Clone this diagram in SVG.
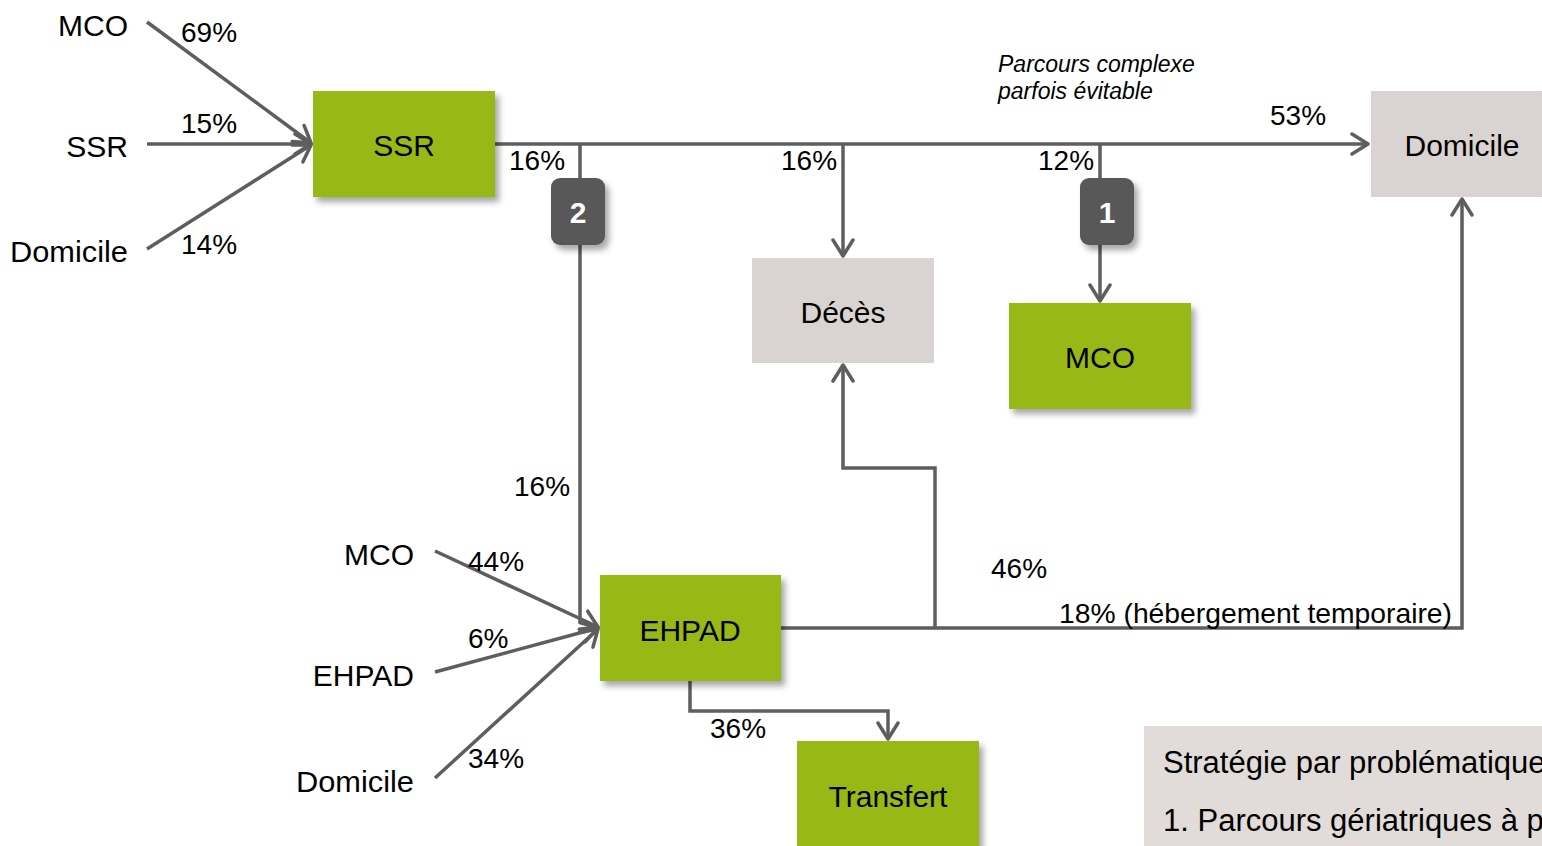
<svg xmlns="http://www.w3.org/2000/svg" width="1542" height="846" viewBox="0 0 1542 846">
<defs>
<style>
text{font-family:"Liberation Sans",Arial,sans-serif;fill:#000}
.lbl{font-size:30px}
.pct{font-size:28px}
.node{font-size:30px;text-anchor:middle}
.green{fill:#98b814}
.grey{fill:#d9d4d1}
.badge{fill:#595959}
.btxt{font-size:30px;font-weight:bold;fill:#fff;text-anchor:middle}
.ln{stroke:#5e5e5e;stroke-width:3.5;fill:none}
.it{font-size:23px;font-style:italic}
.strat{font-size:31px}
</style>
<marker id="ah" viewBox="0 0 20 24" refX="18" refY="12" markerWidth="20" markerHeight="24" markerUnits="userSpaceOnUse" orient="auto">
<path d="M2,2 L18,12 L2,22" fill="none" stroke="#5e5e5e" stroke-width="3.5" stroke-linecap="round" stroke-linejoin="round"/>
</marker>
<filter id="sh" x="-10%" y="-10%" width="130%" height="130%">
<feDropShadow dx="4" dy="5" stdDeviation="3" flood-color="#000" flood-opacity="0.35"/>
</filter>
</defs>

<g id="connectors">
<line class="ln" x1="147" y1="22" x2="311" y2="143" marker-end="url(#ah)"/>
<line class="ln" x1="147" y1="144" x2="311" y2="144" marker-end="url(#ah)"/>
<line class="ln" x1="147" y1="249" x2="311" y2="145" marker-end="url(#ah)"/>
<line class="ln" x1="495" y1="144" x2="1368" y2="144" marker-end="url(#ah)"/>
<line class="ln" x1="580" y1="144" x2="580" y2="622"/>
<line class="ln" x1="843" y1="144" x2="843" y2="256" marker-end="url(#ah)"/>
<line class="ln" x1="1100" y1="144" x2="1100" y2="301" marker-end="url(#ah)"/>
<line class="ln" x1="435" y1="551" x2="598" y2="627" marker-end="url(#ah)"/>
<line class="ln" x1="435" y1="672" x2="598" y2="628" marker-end="url(#ah)"/>
<line class="ln" x1="435" y1="778" x2="598" y2="629" marker-end="url(#ah)"/>
<polyline class="ln" points="781,628 1462,628 1462,199" marker-end="url(#ah)"/>
<polyline class="ln" points="935,628 935,468 843,468 843,365" marker-end="url(#ah)"/>
<polyline class="ln" points="690,681 690,711 888,711 888,739" marker-end="url(#ah)"/>
</g>

<g id="src-mco1"><text class="lbl" x="128" y="36" text-anchor="end">MCO</text></g>
<g id="src-ssr"><text class="lbl" x="128" y="157" text-anchor="end">SSR</text></g>
<g id="src-dom1"><text class="lbl" x="128" y="262" text-anchor="end" textLength="118" lengthAdjust="spacingAndGlyphs">Domicile</text></g>

<g id="labels">
<text class="pct" x="181" y="42">69%</text>
<text class="pct" x="181" y="133">15%</text>
<text class="pct" x="181" y="254">14%</text>
<text class="pct" x="509" y="170">16%</text>
<text class="pct" x="781" y="170">16%</text>
<text class="pct" x="1038" y="170">12%</text>
<text class="pct" x="1270" y="125">53%</text>
<text class="pct" x="514" y="496">16%</text>
<text class="pct" x="468" y="571">44%</text>
<text class="pct" x="468" y="648">6%</text>
<text class="pct" x="468" y="768">34%</text>
<text class="pct" x="991" y="578">46%</text>
<text class="pct" x="1059" y="623" textLength="393" lengthAdjust="spacingAndGlyphs">18% (hébergement temporaire)</text>
<text class="pct" x="710" y="738">36%</text>
<text class="it" x="998" y="72">Parcours complexe</text>
<text class="it" x="998" y="99">parfois évitable</text>
</g>

<g id="ssr"><rect class="green" x="313" y="91" width="182" height="106" filter="url(#sh)"/><text class="node" x="404" y="156">SSR</text></g>
<g id="badge2"><rect class="badge" x="551" y="178" width="54" height="67" rx="9" filter="url(#sh)"/><text class="btxt" x="578" y="223">2</text></g>
<g id="badge1"><rect class="badge" x="1080" y="178" width="54" height="67" rx="9" filter="url(#sh)"/><text class="btxt" x="1107" y="223">1</text></g>
<g id="deces"><rect class="grey" x="752" y="258" width="182" height="105"/><text class="node" x="843" y="323">Décès</text></g>
<g id="mco"><rect class="green" x="1009" y="303" width="182" height="106" filter="url(#sh)"/><text class="node" x="1100" y="368">MCO</text></g>
<g id="domicile"><rect class="grey" x="1371" y="91" width="180" height="106"/><text class="node" x="1462" y="156">Domicile</text></g>

<g id="src-mco2"><text class="lbl" x="414" y="565" text-anchor="end">MCO</text></g>
<g id="src-ehpad"><text class="lbl" x="414" y="686" text-anchor="end">EHPAD</text></g>
<g id="src-dom2"><text class="lbl" x="414" y="792" text-anchor="end" textLength="118" lengthAdjust="spacingAndGlyphs">Domicile</text></g>

<g id="ehpad"><rect class="green" x="600" y="575" width="181" height="106" filter="url(#sh)"/><text class="node" x="690" y="641">EHPAD</text></g>
<g id="transfert"><rect class="green" x="797" y="741" width="182" height="120" filter="url(#sh)"/><text class="node" x="888" y="807">Transfert</text></g>

<g id="strategie">
<rect x="1144" y="726" width="410" height="130" fill="#e1dcd9"/>
<text class="strat" x="1163" y="773">Stratégie par problématique</text>
<text class="strat" x="1163" y="831">1. Parcours gériatriques à p</text>
</g>
</svg>
